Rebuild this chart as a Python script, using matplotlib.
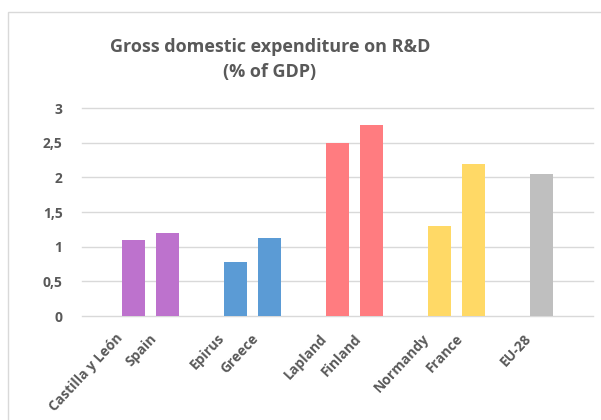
import matplotlib
matplotlib.use('Agg')
import matplotlib.pyplot as plt
import matplotlib.transforms as mtransforms
from matplotlib.patches import Rectangle

# Data
regions = ["Castilla y León", "Spain", "Epirus", "Greece", "Lapland",
           "Finland", "Normandy", "France", "EU-28"]
values = [1.09, 1.20, 0.78, 1.13, 2.50, 2.75, 1.30, 2.19, 2.05]
slots = [1, 2, 4, 5, 7, 8, 10, 11, 13]   # empty slots between country groups
colors = ["#BD72CD", "#BD72CD", "#5B9BD5", "#5B9BD5", "#FF7C80",
          "#FF7C80", "#FFD966", "#FFD966", "#BFBFBF"]
yticks = [0, 0.5, 1, 1.5, 2, 2.5, 3]
ytick_labels = ["0", "0,5", "1", "1,5", "2", "2,5", "3"]

TXT = "#595959"
plt.rcParams['font.family'] = ['Open Sans', 'DejaVu Sans']

fig = plt.figure(figsize=(6.01, 4.20), dpi=100)

# chart-area frame (runs off the right and bottom edges)
fig.patches.append(Rectangle((8 / 601, -0.1), 1.0, 1.1 - 12 / 420,
                             transform=fig.transFigure, fill=False,
                             edgecolor="#D9D9D9", linewidth=1.0))

ax = fig.add_axes([82 / 601, 1 - 316 / 420, 511 / 601, 208 / 420])
ax.bar(slots, values, width=0.68, color=colors, zorder=3)

ax.set_xlim(-0.5, 14.5)
ax.set_ylim(0, 3)
ax.set_yticks(yticks)
ax.set_yticklabels(ytick_labels)
for y in yticks:
    ax.axhline(y, color="#D9D9D9", linewidth=1.0, zorder=1, clip_on=False)

ax.set_xticks(slots)
ax.set_xticklabels(regions, rotation=47, ha='right', va='top',
                   rotation_mode='anchor')
ax.tick_params(axis='both', length=0, labelsize=10, labelcolor=TXT)
ax.tick_params(axis='y', pad=14)
ax.tick_params(axis='x', pad=11)
shift = mtransforms.ScaledTranslation(-18 / 100, 0, fig.dpi_scale_trans)
for lbl in ax.get_xticklabels():
    lbl.set_transform(lbl.get_transform() + shift)
for lbl in ax.get_xticklabels() + ax.get_yticklabels():
    lbl.set_fontweight('bold')
for s in ax.spines.values():
    s.set_visible(False)

fig.text(270 / 601, 1 - 60 / 420, "Gross domestic expenditure on R&D\n(% of GDP)",
         ha='center', va='center', fontsize=13, fontweight='bold',
         color=TXT, linespacing=1.5)

fig.savefig("out.png", dpi=100)
